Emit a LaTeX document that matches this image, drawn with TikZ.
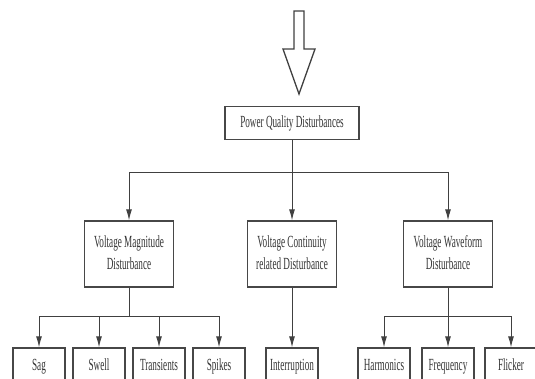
\documentclass[tikz,border=0pt]{standalone}
\usepackage{fontspec}
\setmainfont{Liberation Serif}
\usetikzlibrary{arrows.meta}
\newcommand\sqz[1]{\scalebox{0.54}[1]{\begin{tabular}{@{}c@{}}#1\end{tabular}}}
\begin{document}
\begin{tikzpicture}[x=1pt,y=-1pt,
  font=\fontsize{17}{22}\selectfont,
  box/.style={draw=black!72, line width=1.3pt, inner sep=0pt, text=black!80},
  topbox/.style={box, minimum width=134pt, minimum height=33pt},
  midbox/.style={box, minimum width=89pt, minimum height=66pt},
  leafbox/.style={box, minimum width=52pt, minimum height=36pt},
  conn/.style={draw=black!75, line width=1pt},
  arr/.style={conn, -{Latex[length=11pt,width=6pt]}},
  bigarrow/.style={draw=black!75, line width=1.3pt, fill=white, line join=miter}
]
\useasboundingbox (0,0) rectangle (535,378);
\clip (0,0) rectangle (535,378);

% big hollow input arrow
\draw[bigarrow] (294,11) -- (304,11) -- (304,49) -- (315,49) -- (299,94)
  -- (283,49) -- (294,49) -- cycle;

% nodes
\node[topbox] (pq) at (292,123) {\sqz{Power Quality Disturbances}};

\node[midbox] (m1) at (129,254) {\sqz{Voltage Magnitude\\Disturbance}};
\node[midbox] (m2) at (292,254) {\sqz{Voltage Continuity\\related Disturbance}};
\node[midbox] (m3) at (448,254) {\sqz{Voltage Waveform\\Disturbance}};

\node[leafbox] (l1) at (39,366) {\sqz{Sag}};
\node[leafbox] (l2) at (99,366) {\sqz{Swell}};
\node[leafbox] (l3) at (159,366) {\sqz{Transients}};
\node[leafbox] (l4) at (219,366) {\sqz{Spikes}};
\node[leafbox] (l5) at (292,366) {\sqz{Interruption}};
\node[leafbox] (l6) at (384,366) {\sqz{Harmonics}};
\node[leafbox] (l7) at (448,366) {\sqz{Frequency}};
\node[leafbox] (l8) at (511,366) {\sqz{Flicker}};

% junctions
\coordinate (j0) at (292,172);
\coordinate (j1) at (129,316);
\coordinate (j3) at (448,316);

% connectors
\draw[conn] (pq) -- (j0);
\draw[arr] (j0) -| (m1);
\draw[arr] (j0) -- (m2);
\draw[arr] (j0) -| (m3);

\draw[conn] (m1) -- (j1);
\draw[arr] (j1) -| (l1);
\draw[arr] (j1) -| (l2);
\draw[arr] (j1) -| (l3);
\draw[arr] (j1) -| (l4);

\draw[arr] (m2) -- (l5);

\draw[conn] (m3) -- (j3);
\draw[arr] (j3) -| (l6);
\draw[arr] (j3) -- (l7);
\draw[arr] (j3) -| (l8);
\end{tikzpicture}
\end{document}
